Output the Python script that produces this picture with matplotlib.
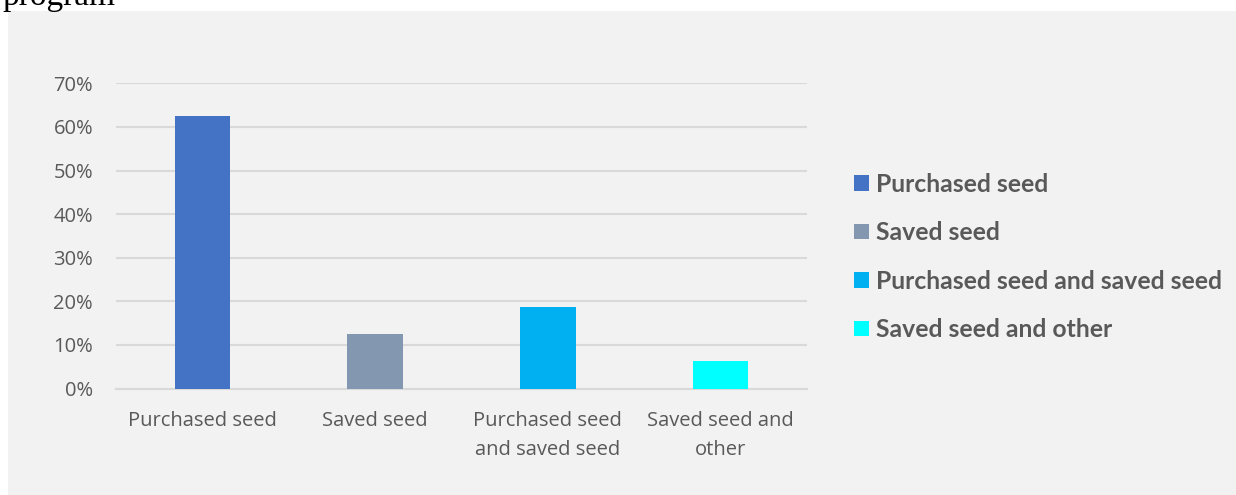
import matplotlib.pyplot as plt
from matplotlib.patches import Patch, Rectangle
from matplotlib.ticker import PercentFormatter

# ===== data =====
categories = ["Purchased seed", "Saved seed", "Purchased seed and saved seed", "Saved seed and other"]
tick_labels = ["Purchased seed", "Saved seed", "Purchased seed\nand saved seed", "Saved seed and\nother"]
shares = [0.625, 0.125, 0.1875, 0.0625]
colors = ["#4472c4", "#8497b0", "#00b0f0", "#00ffff"]
y_ticks = [0, 0.1, 0.2, 0.3, 0.4, 0.5, 0.6, 0.7]

text_color = "#595959"
grid_color = "#d9d9d9"
bg = "#f2f2f2"

plt.rcParams["font.family"] = ["Open Sans", "DejaVu Sans"]

W, H = 1236, 495
fig = plt.figure(figsize=(W / 100, H / 100), dpi=100)
fig.patch.set_facecolor("white")

# grey chart area (screenshot starts a few px in from the left/top)
fig.patches.append(Rectangle((8 / W, 0), 1 - 8 / W, 1 - 11 / H, transform=fig.transFigure,
                             facecolor=bg, edgecolor="none", zorder=-5))

# cut-off line of text above the chart
fig.text(2 / W, 1 - 5 / H, "program", family=["Liberation Serif"], fontsize=24,
         color="black", va="baseline", ha="left")

ax = fig.add_axes([116 / W, 1 - 388.5 / H, (807 - 116) / W, (388.5 - 83.3) / H])
ax.set_facecolor(bg)

x = range(len(categories))
ax.bar(x, shares, width=0.32, color=colors, zorder=3)

ax.set_xlim(-0.5, len(categories) - 0.5)
ax.set_ylim(0, 0.7)
ax.set_yticks(y_ticks)
ax.yaxis.set_major_formatter(PercentFormatter(1.0, decimals=0))
ax.set_xticks(list(x))
ax.set_xticklabels(tick_labels)
ax.tick_params(axis="both", length=0, labelsize=14.5, colors=text_color)
ax.tick_params(axis="y", pad=16.5)
ax.tick_params(axis="x", pad=16.5)
for lab in ax.get_xticklabels():
    lab.set_linespacing(1.58)

ax.grid(axis="y", color=grid_color, linewidth=1.5, zorder=0)
for s in ["top", "right", "left"]:
    ax.spines[s].set_visible(False)
ax.spines["bottom"].set_color(grid_color)
ax.spines["bottom"].set_linewidth(1.5)

handles = [Patch(facecolor=c, edgecolor="none") for c in colors]
leg = fig.legend(handles, categories, loc="center left", bbox_to_anchor=(832 / W, 1 - 257 / H),
                 frameon=False, prop={"family": "Lato", "weight": "bold", "size": 17.8},
                 handlelength=0.6, handleheight=0.6, handletextpad=0.3,
                 labelspacing=1.03, labelcolor=text_color)

fig.savefig("out.png", dpi=100)
